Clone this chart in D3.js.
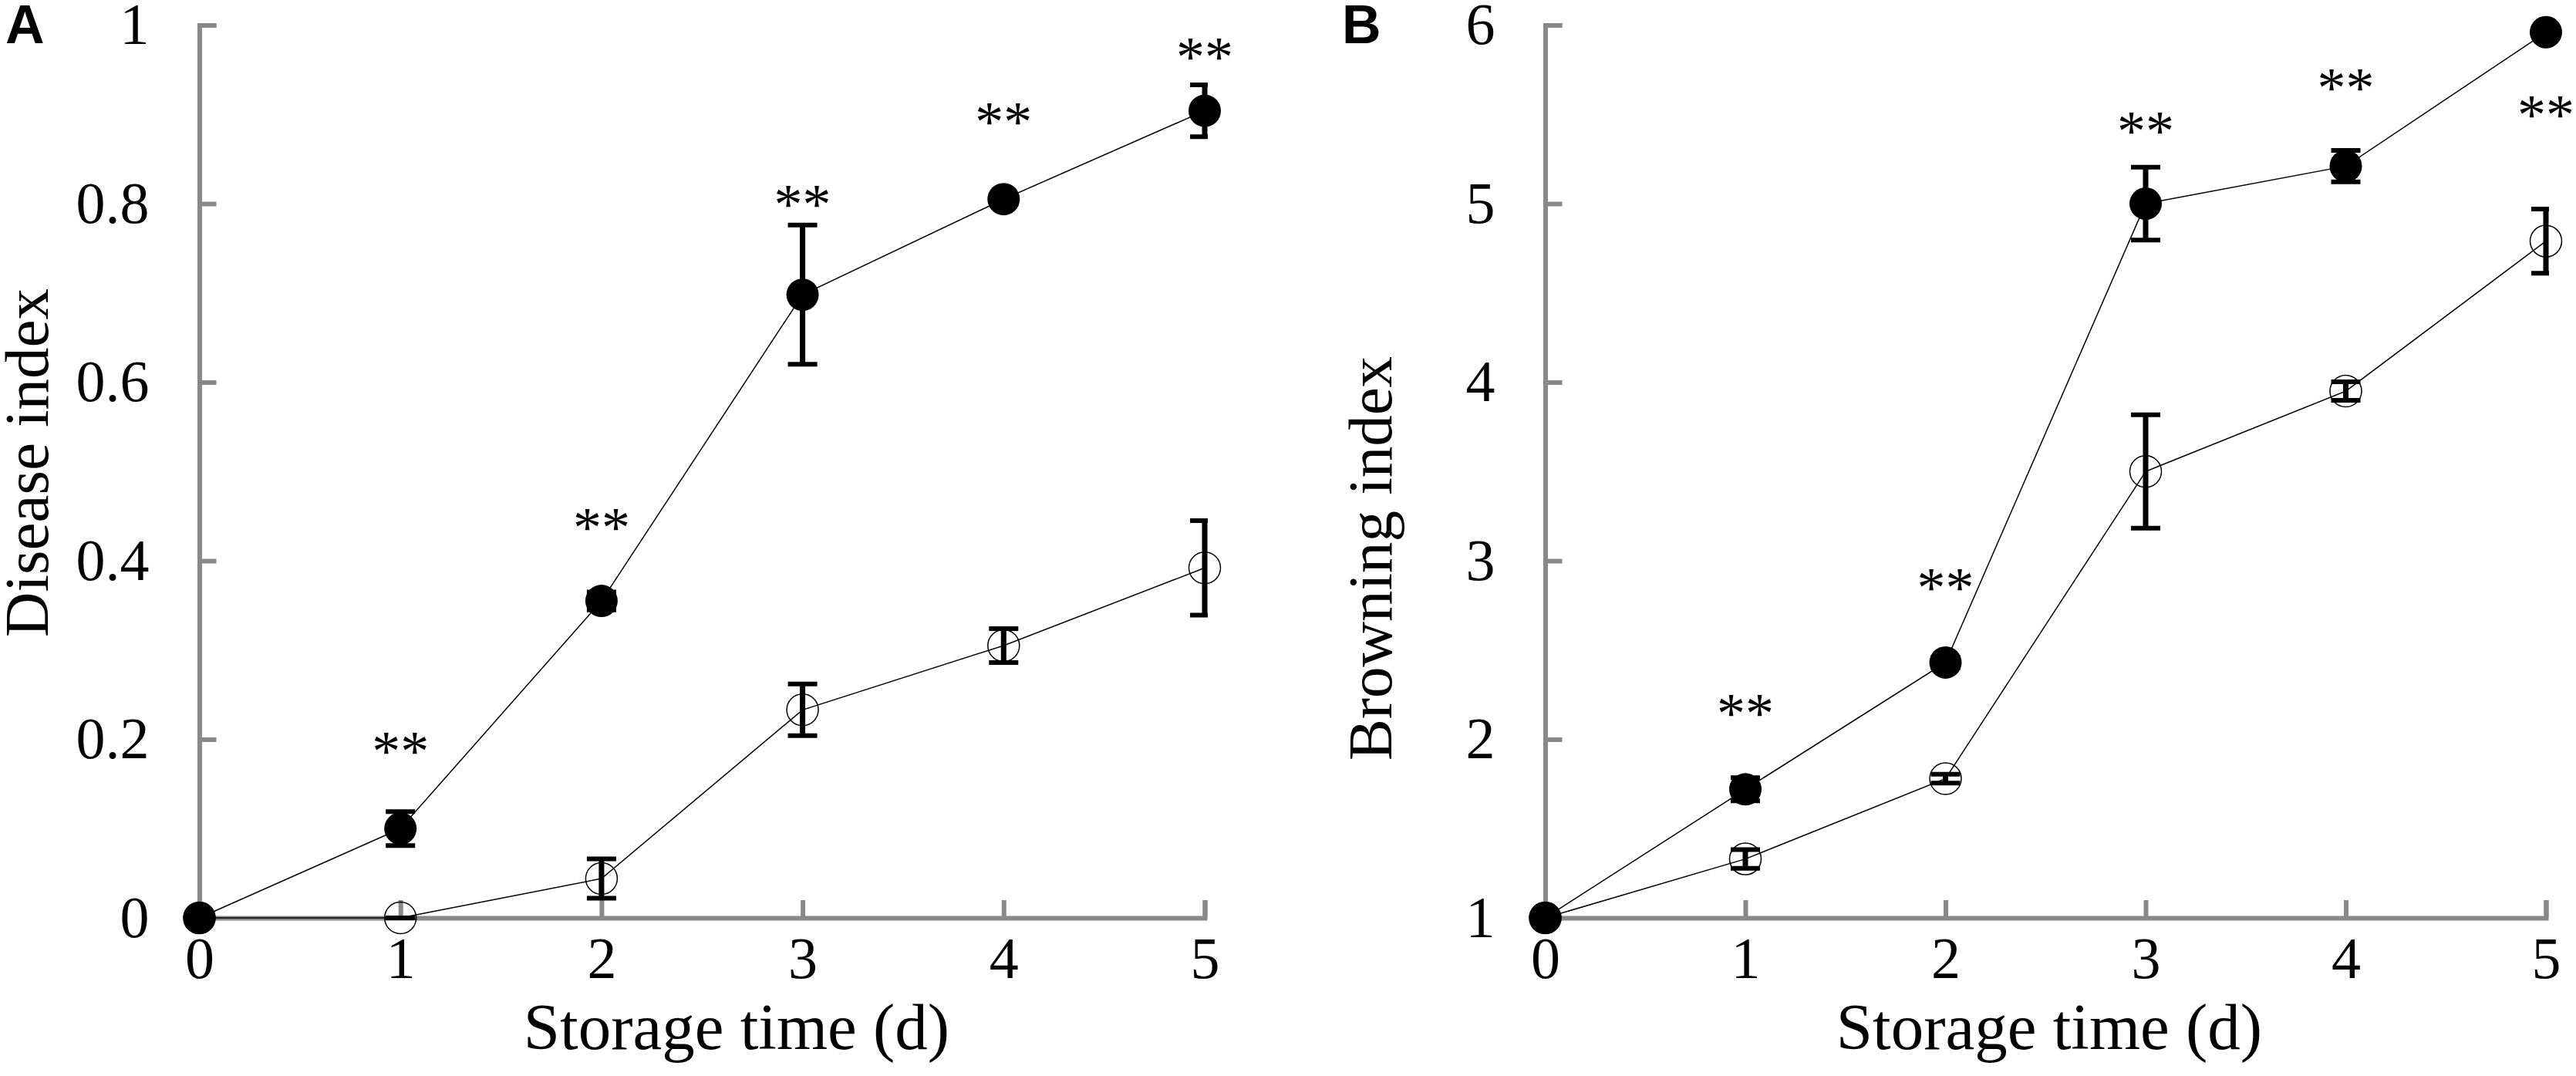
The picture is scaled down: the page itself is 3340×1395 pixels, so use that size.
<!DOCTYPE html>
<html>
<head>
<meta charset="utf-8">
<script src="https://cdn.jsdelivr.net/npm/d3@7"></script>
<style>
    body { margin: 0; background: white; }
    svg { display: block; }
</style>
</head>
<body>
<svg id="chart"></svg>
<script>
// storage days, shared by both panels
const days = [0, 1, 2, 3, 4, 5];

// panel A : disease index
const diseaseFilled = [0, 0.100, 0.355, 0.698, 0.805, 0.904];
const diseaseFilledErr = [0, 0.019, 0.010, 0.078, 0.005, 0.029];
const diseaseOpen = [0, 0, 0.044, 0.233, 0.305, 0.392];
const diseaseOpenErr = [0, 0, 0.022, 0.029, 0.019, 0.053];
const diseaseStars = [null, 0.195, 0.446, 0.808, 0.900, 0.973];
const diseaseTicks = [0, 0.2, 0.4, 0.6, 0.8, 1];

// panel B : browning index
const browningFilled = [1, 1.72, 2.43, 5.00, 5.21, 5.96];
const browningFilledErr = [0, 0.065, 0.030, 0.204, 0.088, 0];
const browningOpen = [1, 1.33, 1.78, 3.50, 3.95, 4.79];
const browningOpenErr = [0, 0.052, 0.025, 0.317, 0.052, 0.180];
const browningStars = [null, 2.19, 2.89, 5.45, 5.69, 5.54];
const browningTicks = [1, 2, 3, 4, 5, 6];

const largeur = 3340,
    hauteur = 1395;
const axisGrey = "#898989";
const serif = "'Liberation Serif', 'Times New Roman', serif";
const yTop = 32.5,
    yBottom = 1190;

const svgSpace = d3.select("#chart")
    .attr("width", largeur)
    .attr("height", hauteur);

drawPanel({
    letter: "A", x0: 258.5, x1: 1562,
    domain: [0, 1], ticks: diseaseTicks,
    filled: diseaseFilled, filledErr: diseaseFilledErr,
    open: diseaseOpen, openErr: diseaseOpenErr,
    stars: diseaseStars,
    yTitle: "Disease index", yTitleX: 62, yTitleY: 600,
    xTitleX: 955,
    labelX: 7
});

drawPanel({
    letter: "B", x0: 2003.5, x1: 3301,
    domain: [1, 6], ticks: browningTicks,
    filled: browningFilled, filledErr: browningFilledErr,
    open: browningOpen, openErr: browningOpenErr,
    stars: browningStars,
    yTitle: "Browning index", yTitleX: 1804, yTitleY: 724,
    xTitleX: 2657,
    labelX: 1740
});

function drawPanel(p) {
    const g = svgSpace.append("g").attr("class", "panel" + p.letter);

    const x = d3.scaleLinear().domain([0, 5]).range([p.x0, p.x1]);
    const y = d3.scaleLinear().domain(p.domain).range([yBottom, yTop]);

    // error bars get cut at the right end of the plot, like the original
    g.append("clipPath")
        .attr("id", "clip" + p.letter)
        .append("rect")
        .attr("x", p.x0 - 4)
        .attr("y", 0)
        .attr("width", p.x1 - p.x0 + 8)
        .attr("height", hauteur);

    const yAxis = d3.axisLeft(y)
        .tickValues(p.ticks)
        .tickFormat(d3.format("~g"))
        .tickSizeInner(-22)
        .tickSizeOuter(-22)
        .tickPadding(65);

    const xAxis = d3.axisBottom(x)
        .tickValues(days)
        .tickFormat(d3.format("d"))
        .tickSizeInner(-23)
        .tickSizeOuter(-23)
        .tickPadding(24);

    g.append("g")
        .attr("transform", `translate(${p.x0},0)`)
        .call(yAxis)
        .call(styleAxis);

    g.append("g")
        .attr("transform", `translate(0,${yBottom})`)
        .call(xAxis)
        .call(styleAxis);

    const line = d3.line()
        .x((d, i) => x(days[i]))
        .y((d) => y(d));

    [p.open, p.filled].forEach((values) => {
        g.append("path")
            .datum(values)
            .attr("d", line)
            .attr("fill", "none")
            .attr("stroke", "black")
            .attr("stroke-width", 1.5);
    });

    const bars = g.append("g").attr("clip-path", `url(#clip${p.letter})`);
    addErrorBars(bars, p.open, p.openErr, x, y);
    addErrorBars(bars, p.filled, p.filledErr, x, y);

    g.append("g")
        .selectAll("circle")
        .data(p.open)
        .enter()
        .append("circle")
        .attr("cx", (d, i) => x(days[i]))
        .attr("cy", (d) => y(d))
        .attr("r", 20.5)
        .attr("fill", "none")
        .attr("stroke", "black")
        .attr("stroke-width", 1.5);

    g.append("g")
        .selectAll("circle")
        .data(p.filled)
        .enter()
        .append("circle")
        .attr("cx", (d, i) => x(days[i]))
        .attr("cy", (d) => y(d))
        .attr("r", 21)
        .attr("fill", "black");

    // significance marks
    g.append("g")
        .selectAll("text")
        .data(p.stars.map((v, i) => ({ v: v, day: days[i] })).filter((d) => d.v !== null))
        .enter()
        .append("text")
        .text("**")
        .attr("x", (d) => x(d.day))
        .attr("y", (d) => y(d.v) + 35)
        .attr("text-anchor", "middle")
        .style("font-family", serif)
        .style("font-size", "74px")
        .attr("fill", "black");

    addText(g, "Storage time (d)", p.xTitleX, 1360, "middle", "85px", serif, "normal");

    addText(g, p.yTitle, 0, 0, "middle", "81px", serif, "normal")
        .attr("transform", `translate(${p.yTitleX},${p.yTitleY}) rotate(-90)`);

    addText(g, p.letter, p.labelX, 56, "start", "70px", "'Liberation Sans', Arial, sans-serif", "bold");
}

function addErrorBars(sel, values, errs, x, y) {
    const cap = 19;
    const bar = sel.append("g")
        .selectAll("g")
        .data(values.map((v, i) => ({ v: v, e: errs[i], day: days[i] })))
        .enter()
        .append("g")
        .attr("stroke", "black");

    bar.append("line")
        .attr("x1", (d) => x(d.day))
        .attr("x2", (d) => x(d.day))
        .attr("y1", (d) => y(d.v - d.e))
        .attr("y2", (d) => y(d.v + d.e))
        .attr("stroke-width", 7);

    [1, -1].forEach((s) => {
        bar.append("line")
            .attr("x1", (d) => x(d.day) - cap)
            .attr("x2", (d) => x(d.day) + cap)
            .attr("y1", (d) => y(d.v + s * d.e))
            .attr("y2", (d) => y(d.v + s * d.e))
            .attr("stroke-width", 6);
    });
}

function styleAxis(sel) {
    sel.attr("font-family", serif).attr("font-size", 76);
    sel.select(".domain")
        .attr("stroke", axisGrey)
        .attr("stroke-width", 6);
    sel.selectAll(".tick line")
        .attr("stroke", axisGrey)
        .attr("stroke-width", 6);
    sel.selectAll(".tick text")
        .attr("fill", "black");
}

function addText(sel, txt, x, y, anchor, fontSize, family, weight) {
    return sel
        .append("text")
        .text(txt)
        .attr("x", x)
        .attr("y", y)
        .attr("fill", "black")
        .style("text-anchor", anchor)
        .style("font-size", fontSize)
        .style("font-family", family)
        .style("font-weight", weight);
}
</script>
</body>
</html>
